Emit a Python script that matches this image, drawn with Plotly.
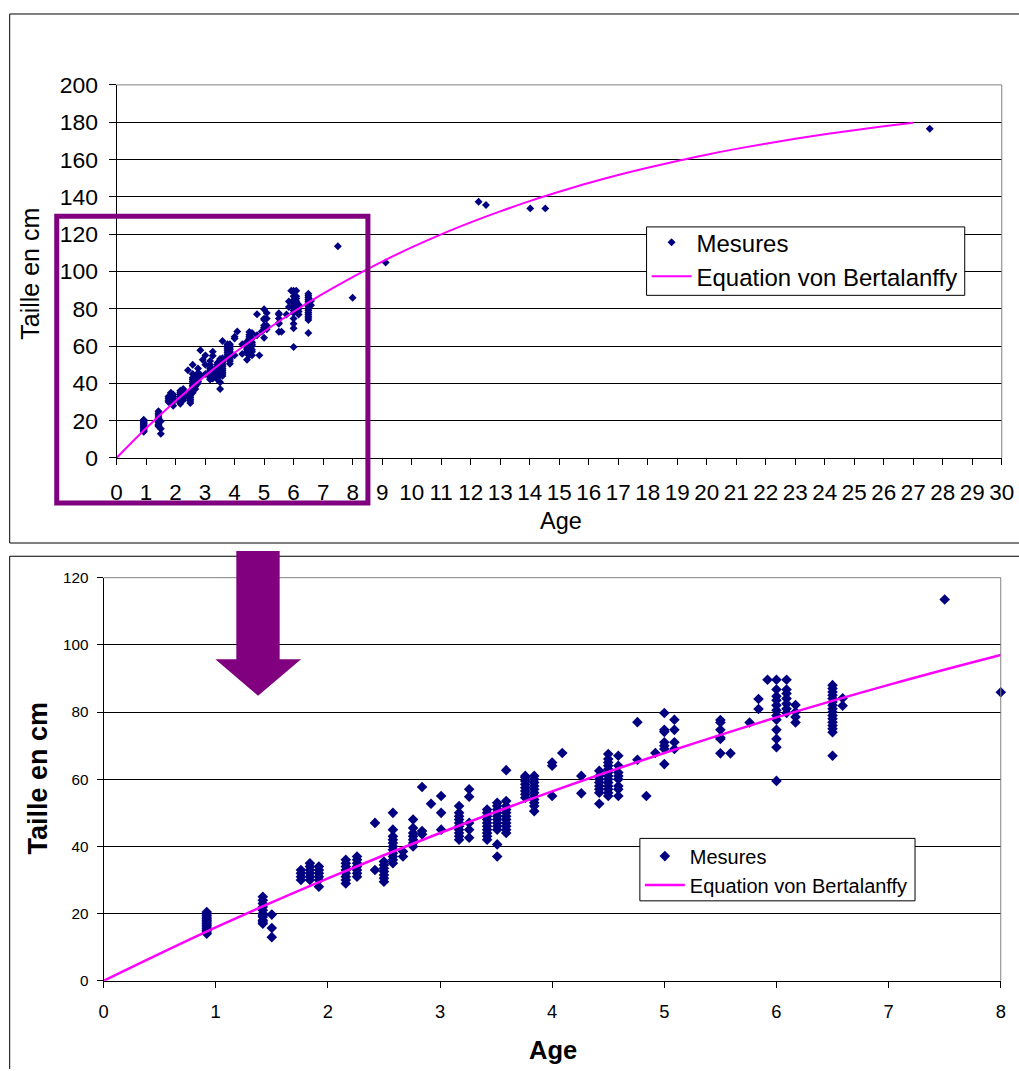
import plotly.graph_objects as go

# ---------------- data ----------------
age_groups = [0.92, 1.42, 1.50, 1.76, 1.84, 1.92, 2.16, 2.26, 2.42, 2.50,
              2.58, 2.67, 2.76, 2.84, 2.92, 3.01, 3.17, 3.26, 3.42, 3.51,
              3.59, 3.76, 3.84, 4.00, 4.09, 4.26, 4.42, 4.50, 4.59, 4.76,
              4.84, 4.92, 5.00, 5.09, 5.50, 5.59, 5.76, 5.84, 5.92, 6.00,
              6.09, 6.17, 6.50, 6.59, 7.50, 8.00, 9.12, 12.27, 12.52, 14.02,
              14.53, 27.56]
taille_groups = [
    [14, 14.5, 15, 15.5, 16, 16.5, 17, 17.5, 18, 18.5, 19, 19.5, 20, 20.5],
    [17, 17.5, 18, 19, 19.5, 20, 21, 22, 23, 24, 25],
    [13, 15.7, 19.7],
    [30, 31, 32, 33],
    [30, 31, 32, 33, 34, 35],
    [28, 30, 31, 32, 33, 34],
    [29, 30, 31, 32, 33, 34, 35, 36],
    [31, 32, 33, 34, 35, 36, 37],
    [33, 47],
    [29.5, 30.5, 31.5, 32.5, 33.5, 34.5, 35.5],
    [35, 36, 37, 38, 39, 40, 41, 42, 43, 45, 50],
    [37, 38.5],
    [40, 41, 42, 43, 44, 45.5, 48],
    [43.6, 44.6, 57.7],
    [52.7],
    [45, 50, 55],
    [42, 43, 44, 45, 46, 47, 48, 49, 50, 52],
    [42.6, 45, 47, 54.8, 57],
    [42, 43, 44, 45, 46, 47, 48, 49, 50, 51],
    [37, 40.6, 45, 46, 47, 48, 49, 50, 51, 52, 53],
    [44, 45, 46, 47, 48, 49, 50, 51, 52, 53.5, 62.7],
    [54.5, 55.5, 56.5, 57.5, 58.5, 59.5, 60.5, 61],
    [50.5, 52, 53, 54, 55, 56, 57, 58, 59, 60, 61],
    [55, 64, 65],
    [67.8],
    [55.8, 61],
    [52.7, 56, 57, 58, 59, 60, 61, 62.5],
    [55, 56, 57, 58, 59, 60, 61, 62, 63, 64, 65, 66, 67.5],
    [55, 57, 58, 60, 61, 62, 64, 67],
    [65.8, 77],
    [55],
    [67.8],
    [64.5, 69, 70, 71, 74.1, 74.7, 79.7],
    [69, 71, 74.7, 77.7],
    [67.7, 72, 72.4, 74.7, 76.9, 77.6],
    [67.7],
    [76.9],
    [80.9, 83.9],
    [89.6],
    [59.5, 69.5, 72, 74.7, 77.7, 79, 80.5, 82, 83.5, 84.7, 86.7, 89.6],
    [79.7, 81, 82.5, 84, 85.5, 86.7, 89.6],
    [76.9, 78.5, 80, 82.1],
    [67, 74, 75, 76, 77, 78, 79, 80, 81, 82, 83, 84, 85, 86, 87, 88],
    [81.9, 84.1],
    [113.5],
    [85.9],
    [104.8],
    [137.4],
    [135.6],
    [133.8],
    [133.8],
    [176.5],
]

curve_ages = [0, 1, 2, 3, 4, 5, 6, 7, 8, 9, 10, 11, 12, 13, 14, 15, 16, 17,
              18, 19, 20, 21, 22, 23, 24, 25, 26, 27]
curve_taille = [0, 15.9, 30.5, 44.0, 56.4, 67.8, 78.4, 88.1, 97.0, 105.3,
                112.9, 119.9, 126.3, 132.2, 137.7, 142.7, 147.4, 151.7,
                155.6, 159.2, 162.6, 165.7, 168.5, 171.1, 173.5, 175.7,
                177.8, 179.7]

top_x_ticks = list(range(0, 31))
top_y_ticks = list(range(0, 201, 20))
bot_x_ticks = list(range(0, 9))
bot_y_ticks = list(range(0, 121, 20))

mes_x = [a for a, vals in zip(age_groups, taille_groups) for _ in vals]
mes_y = [v for vals in taille_groups for v in vals]

# ---------------- layout helpers ----------------
# photographed page = SX * page + CX (measured); body margin removed
SX, CX, SY, CY = 0.982, 5.8, 0.98, 10.5
BODY = 0
W, H = 1032, 1082
FS = 1 / 0.981          # size compensation
FONT = "Liberation Sans, Arial, sans-serif"


def px(x):
    f = (x - CX) / SX - BODY
    return min(max(f / W, 0), 1)


def py(y):
    f = (y - CY) / SY - BODY
    return min(max(1 - f / H, 0), 1)


def s(v):
    return round(v * FS, 2)


NAVY = "#000080"
MAGENTA = "#FF00FF"
PURPLE = "#800080"

fig = go.Figure()

# top chart
fig.add_trace(go.Scatter(
    x=mes_x, y=mes_y, mode="markers", name="Mesures",
    marker=dict(symbol="diamond", size=s(6), color=NAVY, line=dict(width=0)),
    xaxis="x", yaxis="y", legend="legend"))
fig.add_trace(go.Scatter(
    x=curve_ages, y=curve_taille, mode="lines", name="Equation von Bertalanffy",
    line=dict(color=MAGENTA, width=2, shape="spline"),
    xaxis="x", yaxis="y", legend="legend"))

# bottom chart (zoom)
fig.add_trace(go.Scatter(
    x=mes_x, y=mes_y, mode="markers", name="Mesures",
    marker=dict(symbol="diamond", size=s(8), color=NAVY, line=dict(width=0)),
    cliponaxis=False,
    xaxis="x2", yaxis="y2", legend="legend2"))
fig.add_trace(go.Scatter(
    x=curve_ages, y=curve_taille, mode="lines", name="Equation von Bertalanffy",
    line=dict(color=MAGENTA, width=2.5, shape="spline"),
    xaxis="x2", yaxis="y2", legend="legend2"))

base_axis = dict(showline=True, linecolor="black", linewidth=1,
                 ticks="outside", tickcolor="black", zeroline=False)

fig.update_layout(
    width=W, height=H,
    autosize=False,
    margin=dict(l=0, r=0, t=0, b=0, pad=0),
    paper_bgcolor="white", plot_bgcolor="white",
    font=dict(family=FONT, color="black"),
    hovermode=False,
    xaxis=dict(domain=[px(116.3), px(1001)], range=[0, 30],
               tickvals=top_x_ticks, ticklen=6, showgrid=False,
               ticklabelstandoff=8, anchor="y",
               tickfont=dict(family=FONT, size=s(22), color="black"),
               **base_axis),
    yaxis=dict(domain=[py(457.3), py(82.7)], range=[0, 200],
               tickvals=top_y_ticks, ticklen=7, showgrid=True,
               gridcolor="black", gridwidth=1, ticklabelstandoff=6,
               anchor="x",
               tickfont=dict(family=FONT, size=s(22.5), color="black"),
               **base_axis),
    xaxis2=dict(domain=[px(103.3), px(1000)], range=[0, 8],
                tickvals=bot_x_ticks, ticklen=6, showgrid=False,
                ticklabelstandoff=8, anchor="y2",
                tickfont=dict(family=FONT, size=s(18), color="black"),
                **base_axis),
    yaxis2=dict(domain=[py(982.3), py(577.5)], range=[0, 120],
                tickvals=bot_y_ticks, ticklen=6, showgrid=True,
                gridcolor="black", gridwidth=1, ticklabelstandoff=5,
                anchor="x2",
                tickfont=dict(family=FONT, size=s(15), color="black"),
                **base_axis),
    # legend boxes are drawn as shapes; the legends themselves are borderless
    legend=dict(x=px(646), y=py(218.5), xanchor="left", yanchor="top",
                bgcolor="rgba(0,0,0,0)", borderwidth=0,
                font=dict(family=FONT, size=s(23.5), color="black"),
                itemwidth=40, tracegroupgap=0),
    legend2=dict(x=px(639.3), y=py(837.5), xanchor="left", yanchor="top",
                 bgcolor="rgba(0,0,0,0)", borderwidth=0,
                 font=dict(family=FONT, size=s(19.6), color="black"),
                 itemwidth=40, tracegroupgap=0),
    showlegend=True,
)

shapes = []


def hline(x0, x1, y, color="black", width=1, layer="below"):
    return dict(type="line", xref="paper", yref="paper", x0=px(x0), x1=px(x1),
                y0=py(y), y1=py(y), line=dict(color=color, width=width),
                layer=layer)


def vline(x, y0, y1, color="black", width=1, layer="below"):
    return dict(type="line", xref="paper", yref="paper", x0=px(x), x1=px(x),
                y0=py(y0), y1=py(y1), line=dict(color=color, width=width),
                layer=layer)


def box(x0, y0, x1, y1, color="black", width=1, fill=None, layer="above"):
    d = dict(type="rect", xref="paper", yref="paper",
             x0=px(x0), x1=px(x1), y0=py(y1), y1=py(y0),
             line=dict(color=color, width=width), layer=layer)
    if fill:
        d["fillcolor"] = fill
    return d


# outer chart frames (right/bottom edges fall outside the visible page)
shapes.append(hline(9.5, 1025, 11.5))
shapes.append(hline(9.5, 1025, 542.7))
shapes.append(vline(9.5, 11.5, 542.7))
shapes.append(hline(9.5, 1025, 556))
shapes.append(vline(9.5, 556, 1080))
# plot-area grey borders (top and right edges)
for xa, ya in (("x", "y"), ("x2", "y2")):
    shapes.append(dict(type="line", xref=f"{xa} domain", yref=f"{ya} domain",
                       x0=0, x1=1, y0=1, y1=1,
                       line=dict(color="#808080", width=1), layer="above"))
    shapes.append(dict(type="line", xref=f"{xa} domain", yref=f"{ya} domain",
                       x0=1, x1=1, y0=0, y1=1,
                       line=dict(color="#808080", width=1), layer="above"))
# legend frames
shapes.append(box(646, 225.3, 964, 294, fill="white"))
shapes.append(box(639.3, 839.3, 914.3, 902, fill="white"))
# purple zoom rectangle
shapes.append(box(56.5, 214.5, 367.5, 502.5, color=PURPLE, width=5))
# purple arrow
pts = [(236, 550.7), (279.3, 550.7), (279.3, 659.3), (300.7, 659.3),
       (257.7, 696), (215, 659.3), (236, 659.3)]
path = "M " + " L ".join(f"{px(a):.5f},{py(b):.5f}" for a, b in pts) + " Z"
shapes.append(dict(type="path", xref="paper", yref="paper", path=path,
                   fillcolor=PURPLE, line=dict(color=PURPLE, width=0),
                   layer="above"))
fig.update_layout(shapes=shapes)

annotations = [
    dict(text="Taille en cm", x=px(30), y=py(272), textangle=-90, size=24.5),
    dict(text="Age", x=px(560), y=py(521), size=23),
    dict(text="<b>Taille en cm</b>", x=px(38), y=py(779), textangle=-90,
         size=26.5),
    dict(text="<b>Age</b>", x=px(552), y=py(1052), size=25),
]
fig.update_layout(annotations=[
    dict(text=a["text"], x=a["x"], y=a["y"], xref="paper", yref="paper",
         xanchor="center", yanchor="middle", showarrow=False,
         textangle=a.get("textangle", 0),
         font=dict(family=FONT, size=s(a["size"]), color="black"))
    for a in annotations])

fig.write_html("out.html",
               config={"displayModeBar": False, "staticPlot": True},
               post_script="document.body.style.margin='0px';")
